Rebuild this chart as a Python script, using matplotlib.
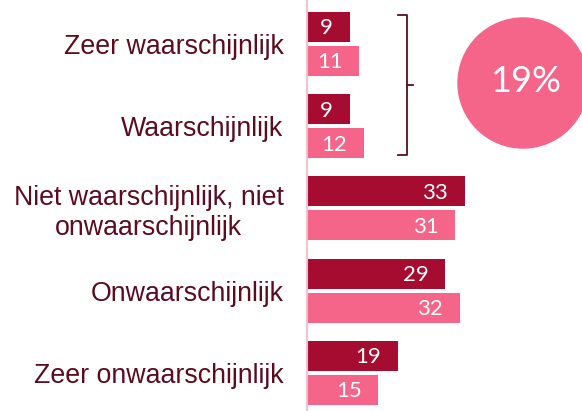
import numpy as np
import matplotlib
matplotlib.use('Agg')
import matplotlib.pyplot as plt
from matplotlib.patches import Circle

# data
categories = ['Zeer waarschijnlijk', 'Waarschijnlijk',
              'Niet waarschijnlijk, niet\nonwaarschijnlijk',
              'Onwaarschijnlijk', 'Zeer onwaarschijnlijk']
series_a = [9, 9, 33, 29, 19]     # dark bars
series_b = [11, 12, 31, 32, 15]   # pink bars
total_label = '19%'

dark = '#A60B30'
pink = '#F56489'
text_col = '#5B0C1F'

fig = plt.figure(figsize=(5.82, 4.11), dpi=100)
ax = fig.add_axes([306.5 / 582, 0, 1 - 306.5 / 582, 1])

y = np.arange(len(categories))
h = 0.365
off = 0.207
ax.barh(y - off, series_a, height=h, color=dark)
ax.barh(y + off, series_b, height=h, color=pink)

for yi, va, vb in zip(y, series_a, series_b):
    ax.annotate(str(va), (va, yi - off), xytext=(-12, -1), textcoords='offset points',
                ha='right', va='center', color='white', fontsize=16,
                family='Lato')
    ax.annotate(str(vb), (vb, yi + off), xytext=(-12, -1), textcoords='offset points',
                ha='right', va='center', color='white', fontsize=16,
                family='Lato')

ax.set_xlim(0, 275.5 / 4.79)
ax.set_ylim(4.465, -0.535)
ax.set_yticks(y)
ax.set_yticklabels(categories, fontsize=19.3, color=text_col,
                   family='Liberation Sans', multialignment='center')
ax.tick_params(axis='y', length=0, pad=16.5)
ax.set_xticks([])
for s in ['top', 'right', 'bottom']:
    ax.spines[s].set_visible(False)
ax.spines['left'].set_color('#F8BFCD')
ax.spines['left'].set_linewidth(1.5)

# bracket around the first two groups
bx = 21.0
top = y[0] - off - h / 2 + 0.04
bot = y[1] + off + h / 2 - 0.04
mid = (top + bot) / 2
ax.plot([bx - 1.9, bx, bx, bx - 1.9], [top, top, bot, bot], color=text_col, lw=1.3)
ax.plot([bx, bx + 1.2], [mid, mid], color=text_col, lw=1.3)

# circle with total
circ = Circle((5.23, 4.11 - 0.83), 0.65, transform=fig.dpi_scale_trans,
              color=pink, clip_on=False)
fig.patches.append(circ)
fig.text(5.26, 4.11 - 0.82, total_label, transform=fig.dpi_scale_trans,
         ha='center', va='center', color='white', fontsize=26,
         family='Lato')

fig.savefig('out.png', dpi=100)
